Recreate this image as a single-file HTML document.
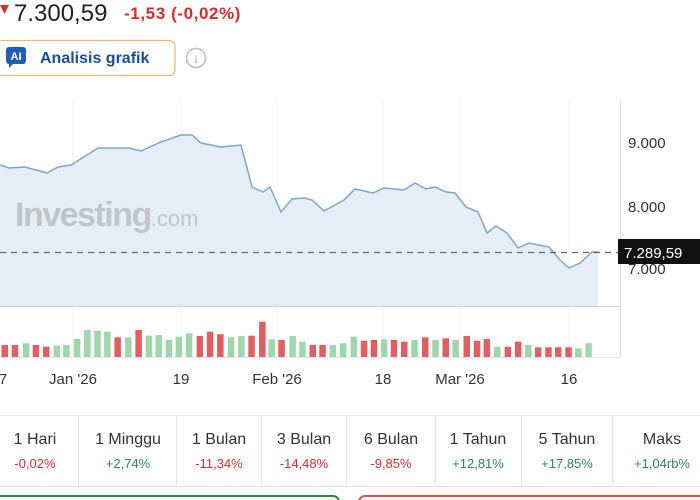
<!DOCTYPE html>
<html><head><meta charset="utf-8"><style>
body{margin:0;width:700px;height:500px;overflow:hidden;background:#fff;font-family:"Liberation Sans",sans-serif;position:relative}
.a{position:absolute;white-space:nowrap}
</style></head><body>
<svg class="a" style="left:0;top:0" width="700" height="500" viewBox="0 0 700 500">
<polygon points="0,5 9,5 4.5,14" fill="#d32f2f"/>
<text x="14" y="21" font-size="24" fill="#222" font-family="Liberation Sans">7.300,59</text>
<text x="124" y="19" font-size="17" fill="#d32f2f" font-weight="bold" font-family="Liberation Sans" letter-spacing="0.6">-1,53  (-0,02%)</text>
<rect x="-6" y="40.5" width="181" height="35" rx="6" fill="#fff" stroke="#e9b77a" stroke-width="1.2"/>
<rect x="6" y="47" width="20" height="17" rx="3" fill="#1f5fb5"/>
<polygon points="9,63 14,63 9,68" fill="#1f5fb5"/>
<text x="16" y="60" font-size="11" fill="#fff" font-weight="bold" text-anchor="middle" font-family="Liberation Sans">AI</text>
<text x="40" y="63" font-size="16" fill="#1a4f96" font-weight="bold" font-family="Liberation Sans">Analisis grafik</text>
<circle cx="196" cy="58" r="9.5" fill="none" stroke="#bbb" stroke-width="1.5"/>
<text x="196" y="63" font-size="12" fill="#aaa" text-anchor="middle" font-family="Liberation Serif">i</text>
<g stroke="#f3f3f3">
<line x1="73" y1="100" x2="73" y2="357"/><line x1="181" y1="100" x2="181" y2="357"/><line x1="277" y1="100" x2="277" y2="357"/><line x1="383" y1="100" x2="383" y2="357"/><line x1="460" y1="100" x2="460" y2="357"/><line x1="569" y1="100" x2="569" y2="357"/>
</g>
<polygon id="fill" fill="#e5eef7"/>
<polyline id="line" fill="none" stroke="#7fa6c9" stroke-width="1.5"/>
<text x="15" y="226" font-size="34" fill="#c2c5c8" font-weight="bold" font-family="Liberation Sans" letter-spacing="-1.5">Investing<tspan font-size="22" font-weight="normal" letter-spacing="0">.com</tspan></text>
<line x1="0" y1="306.5" x2="620" y2="306.5" stroke="#cfd3d6"/>
<line x1="620.5" y1="100" x2="620.5" y2="357" stroke="#dde0e3"/>
<line x1="0" y1="357.5" x2="620" y2="357.5" stroke="#e5e7ea"/>
<g id="bars"></g>
<line x1="0" y1="252.5" x2="618" y2="252.5" stroke="#666" stroke-dasharray="6,5" stroke-width="1.2"/>
<g font-size="15" fill="#333" font-family="Liberation Sans">
<text x="628" y="148">9.000</text><text x="628" y="212">8.000</text><text x="628" y="274">7.000</text>
</g>
<rect x="618" y="239" width="82" height="25" fill="#111"/>
<text x="624" y="258" font-size="15" fill="#fff" font-family="Liberation Sans">7.289,59</text>
<g font-size="15" fill="#333" text-anchor="middle" font-family="Liberation Sans">
<text x="3" y="384">7</text><text x="73" y="384">Jan '26</text><text x="181" y="384">19</text><text x="277" y="384">Feb '26</text><text x="383" y="384">18</text><text x="460" y="384">Mar '26</text><text x="569" y="384">16</text>
</g>
<line x1="0" y1="415.5" x2="700" y2="415.5" stroke="#e3e5e8"/>
<line x1="0" y1="486.5" x2="700" y2="486.5" stroke="#e3e5e8"/>
<g stroke="#e3e5e8"><line x1="78.5" y1="415" x2="78.5" y2="486"/><line x1="176.5" y1="415" x2="176.5" y2="486"/><line x1="261.5" y1="415" x2="261.5" y2="486"/><line x1="346.5" y1="415" x2="346.5" y2="486"/><line x1="435.5" y1="415" x2="435.5" y2="486"/><line x1="521.5" y1="415" x2="521.5" y2="486"/><line x1="612.5" y1="415" x2="612.5" y2="486"/></g>
<g font-size="16" fill="#333" text-anchor="middle" font-family="Liberation Sans">
<text x="35" y="444">1 Hari</text><text x="128" y="444">1 Minggu</text><text x="219" y="444">1 Bulan</text><text x="304" y="444">3 Bulan</text><text x="391" y="444">6 Bulan</text><text x="478" y="444">1 Tahun</text><text x="567" y="444">5 Tahun</text><text x="662" y="444">Maks</text>
</g>
<g font-size="13" text-anchor="middle" font-family="Liberation Sans">
<text x="35" y="468" fill="#d32f2f">-0,02%</text><text x="128" y="468" fill="#2e8b57">+2,74%</text><text x="219" y="468" fill="#d32f2f">-11,34%</text><text x="304" y="468" fill="#d32f2f">-14,48%</text><text x="391" y="468" fill="#d32f2f">-9,85%</text><text x="478" y="468" fill="#2e8b57">+12,81%</text><text x="567" y="468" fill="#2e8b57">+17,85%</text><text x="662" y="468" fill="#2e8b57">+1,04rb%</text>
</g>
<rect x="-5" y="496" width="344" height="12" rx="6" fill="none" stroke="#2e8b3a" stroke-width="2"/>
<rect x="359" y="496" width="350" height="12" rx="6" fill="none" stroke="#d9534f" stroke-width="2"/>
</svg>
<script>
var p=[[0,165],[9,168],[25,167],[47,173],[58,167],[71,165],[98,148],[129,148],[141,151],[161,142],[181,135],[192,135],[201,143],[221,147],[241,145],[252,187],[263,192],[270,187],[281,212],[292,199],[304,198],[312,200],[324,211],[344,200],[355,189],[373,193],[384,188],[404,190],[415,183],[426,189],[435,187],[446,192],[455,193],[466,207],[478,212],[487,233],[496,226],[507,233],[518,248],[529,243],[549,247],[560,260],[569,268],[580,263],[592,252],[598,252]];
var s=p.map(function(a){return a.join(',')}).join(' ');
document.getElementById('line').setAttribute('points',s);
document.getElementById('fill').setAttribute('points',s+' 598,306 0,306');
var b="R735 R735 G730 R735 R740 G737 G735 G717 G690 G693 G695 R712 G712 R690 G707 G705 G720 G710 G700 R708 R695 R703 G712 G708 R707 R665 G718 R720 G708 G725 R735 R735 G735 G730 G710 R722 R720 G718 R720 R725 G720 R712 G720 R715 G720 R708 R722 R717 G740 R740 R725 G735 R742 R742 R742 R742 G745 G730".split(' ');
var xs=[10,33,58,80,103,127,148,172,195,218,240,263,287,310,333,355,378,400,423,447,470,493,517,540,563,587,608,630,655,677,700,722,745,768,792,815,837,860,882,905,928,952,975,998,1020,1045,1068,1090,1113,1137,1160,1183,1205,1228,1250,1273,1295,1318];
var h='';
for(var i=0;i<b.length;i++){var c=b[i][0]=='R'?'#df5f63':'#9fd6ad';var y=+b[i].slice(1)/3+100;var x=xs[i]/2.24-3;h+='<rect x="'+x.toFixed(1)+'" y="'+y.toFixed(1)+'" width="6.5" height="'+(357-y).toFixed(1)+'" fill="'+c+'"/>';}
document.getElementById('bars').innerHTML=h;
</script>
</body></html>
